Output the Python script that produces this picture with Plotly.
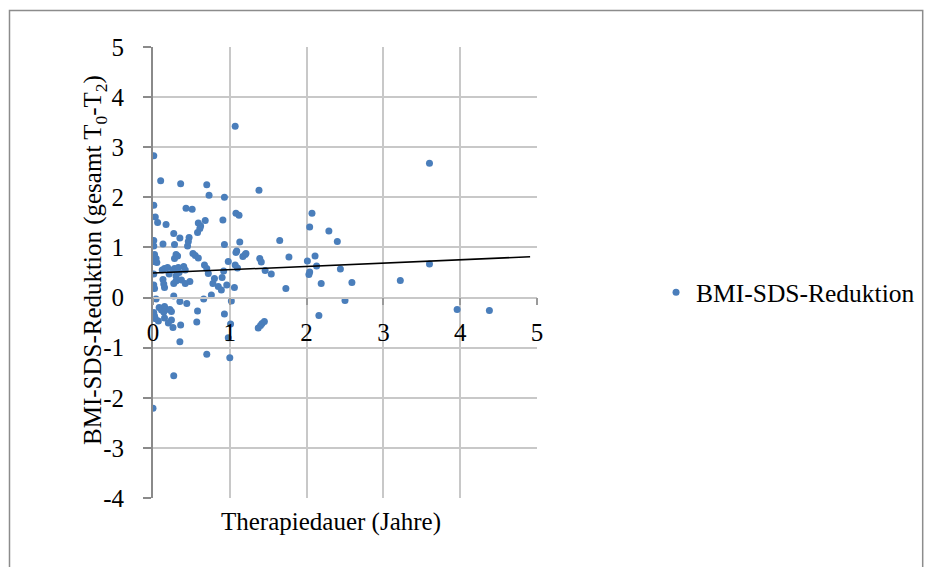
import plotly.graph_objects as go

# Therapy duration (years) and BMI-SDS reduction (T0 -> T2) per patient
dauer = [
    1.07, 0.01, 0.10, 0.36, 0.70, 1.38, 0.73, 0.93, 0.01, 0.43, 0.51, 0.03, 1.08, 1.12,
    0.68, 0.91, 0.06, 0.17, 0.59, 0.62, 0.61, 0.58, 0.27, 0.35, 0.47, 0.46, 0.45, 0.01,
    0.01, 0.13, 0.28, 0.93, 1.13, 1.09, 1.20, 1.17, 1.39, 1.41, 1.46, 1.54, 1.65, 2.07,
    2.04, 2.29, 2.40, 1.77, 2.01, 2.11, 2.13, 2.04, 2.03, 2.44, 1.73, 2.19, 2.59, 3.22,
    2.50, 2.16, 3.60, 3.60, 3.96, 4.38,
    0.02, 0.04, 0.01, 0.05, 0.30, 0.28, 0.32, 0.52, 0.55, 0.59, 0.67, 0.70, 0.72, 0.98,
    0.92, 1.07, 1.10, 1.08, 1.21, 0.01, 0.12, 0.15, 0.19, 0.21, 0.26, 0.28, 0.33, 0.34,
    0.30, 0.40, 0.42, 0.13, 0.14, 0.15, 0.27, 0.30, 0.37, 0.42, 0.48, 0.01, 0.02, 0.78,
    0.85, 0.89, 0.96, 0.80, 0.90, 1.06, 0.76, 0.66, 0.27, 0.04, 1.02, 0.35, 0.44,
    0.08, 0.11, 0.15, 0.17, 0.22, 0.24, 0.14, 0.01, 0.02, 0.03, 0.15, 0.24, 0.07, 0.58,
    0.57, 0.93, 1.01, 0.20, 0.26, 0.36, 0.98, 0.35, 0.70, 1.00, 0.27, 1.37, 1.40, 1.42,
    1.45, 0.00,
]
reduktion = [
    3.42, 2.83, 2.33, 2.27, 2.25, 2.14, 2.04, 2.00, 1.84, 1.78, 1.76, 1.61, 1.68, 1.64,
    1.54, 1.55, 1.50, 1.46, 1.49, 1.43, 1.38, 1.30, 1.28, 1.19, 1.20, 1.12, 1.03, 1.14,
    1.03, 1.07, 1.06, 1.06, 1.11, 0.93, 0.86, 0.82, 0.78, 0.71, 0.54, 0.47, 1.14, 1.68,
    1.41, 1.33, 1.12, 0.81, 0.73, 0.83, 0.63, 0.51, 0.46, 0.57, 0.18, 0.28, 0.30, 0.34,
    -0.06, -0.36, 2.68, 0.67, -0.24, -0.26,
    0.86, 0.78, 0.72, 0.70, 0.86, 0.78, 0.83, 0.88, 0.84, 0.79, 0.65, 0.58, 0.48, 0.72,
    0.53, 0.65, 0.59, 0.90, 0.88, 0.47, 0.55, 0.58, 0.60, 0.47, 0.55, 0.58, 0.60, 0.50,
    0.43, 0.62, 0.55, 0.36, 0.27, 0.20, 0.28, 0.33, 0.35, 0.28, 0.32, 0.25, 0.18, 0.28,
    0.22, 0.15, 0.25, 0.38, 0.40, 0.20, 0.05, -0.03, 0.03, -0.03, -0.07, -0.08, -0.12,
    -0.20, -0.25, -0.18, -0.24, -0.24, -0.28, -0.29, -0.30, -0.37, -0.42, -0.41, -0.45, -0.47, -0.27,
    -0.49, -0.33, -0.53, -0.51, -0.60, -0.55, -0.80, -0.88, -1.13, -1.20, -1.56, -0.61, -0.56, -0.52,
    -0.48, -2.21,
]

# Linear trend line (intercept, slope) and its x extent
trend_intercept = 0.49
trend_slope = 0.066
trend_x = [0.0, 4.91]

x_ticks = [0, 1, 2, 3, 4, 5]
y_ticks = [-4, -3, -2, -1, 0, 1, 2, 3, 4, 5]
y_tick_labels = ["-4", "-3", "-2", "-1", "0", "1", "2", "3", "4", "5"]

FONT = "Liberation Serif"
BLUE = "#4A7EBB"
GRID = "#C8C8C8"

fig = go.Figure()
fig.add_trace(go.Scatter(
    x=dauer, y=reduktion, mode="markers", name="BMI-SDS-Reduktion",
    marker=dict(color=BLUE, size=7),
))
fig.add_trace(go.Scatter(
    x=trend_x, y=[trend_intercept + trend_slope * v for v in trend_x],
    mode="lines", line=dict(color="black", width=1.5), showlegend=False,
    hoverinfo="skip",
))

fig.update_layout(
    width=933, height=567,
    margin=dict(l=153, r=396, t=47, b=69),
    paper_bgcolor="white", plot_bgcolor="white",
    font=dict(family=FONT, size=25, color="black"),
    showlegend=True,
    legend=dict(x=1.31, y=0.455, xanchor="left", yanchor="middle",
                font=dict(family=FONT, size=25.5), itemwidth=30,
                bgcolor="rgba(0,0,0,0)"),
    xaxis=dict(
        range=[0, 5], tickvals=x_ticks, showgrid=True, gridcolor=GRID, gridwidth=1.5,
        zeroline=False, showline=True, linecolor=GRID, linewidth=1.5,
        anchor="free", position=4 / 9,
        ticks="outside", ticklen=7, tickcolor="#9A9A9A", tickwidth=1.5,
        ticklabelstandoff=6,
    ),
    yaxis=dict(
        range=[-4, 5], tickvals=y_ticks, ticktext=y_tick_labels,
        showgrid=True, gridcolor=GRID, gridwidth=1.5,
        zeroline=False, showline=True, linecolor="#8A8A8A", linewidth=2,
        ticks="outside", ticklen=8, tickcolor="#8A8A8A", tickwidth=1.5,
        ticklabelstandoff=14,
    ),
    annotations=[
        dict(text="Therapiedauer (Jahre)", xref="paper", yref="paper",
             x=0.463, y=-0.053, xanchor="center", yanchor="middle",
             showarrow=False, font=dict(family=FONT, size=25)),
        dict(text="BMI-SDS-Reduktion (gesamt T<sub>0</sub>-T<sub>2</sub>)",
             xref="paper", yref="paper", x=-0.152, y=0.527, textangle=-90,
             xanchor="center", yanchor="middle", showarrow=False,
             font=dict(family=FONT, size=25)),
    ],
    shapes=[
        dict(type="rect", xref="paper", yref="paper",
             x0=-0.3737, x1=2.0044, y0=-0.171, y1=1.081,
             line=dict(color="#8C8C8C", width=1.5), layer="below"),
    ],
)

fig.write_html("out.html")
